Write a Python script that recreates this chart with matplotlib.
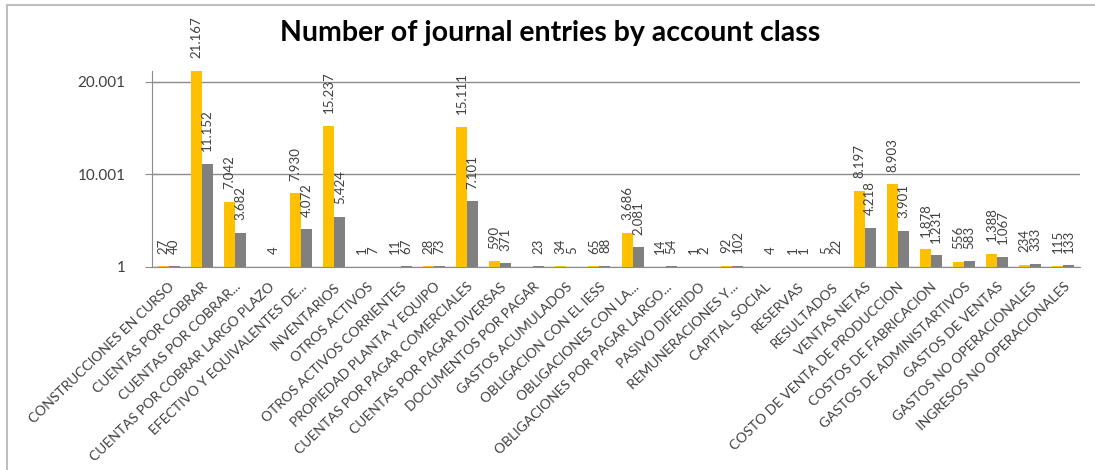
import numpy as np
import matplotlib

matplotlib.use("Agg")
import matplotlib.pyplot as plt  # noqa: E402
from matplotlib.lines import Line2D  # noqa: E402

ORANGE = "#FFC000"
GRAY = "#808080"
GRID = "#8c8c8c"
TEXT = "#404040"
FRAME = "#bfbfbf"

plt.rcParams.update({
    "font.family": ["Lato", "DejaVu Sans"],
    "text.color": TEXT,
    "xtick.color": TEXT,
    "ytick.color": TEXT,
})

categories = [
    "CONSTRUCCIONES EN CURSO", "CUENTAS POR COBRAR", "CUENTAS POR COBRAR...",
    "CUENTAS POR COBRAR LARGO PLAZO", "EFECTIVO Y EQUIVALENTES DE...",
    "INVENTARIOS", "OTROS ACTIVOS", "OTROS ACTIVOS CORRIENTES",
    "PROPIEDAD PLANTA Y EQUIPO", "CUENTAS POR PAGAR COMERCIALES",
    "CUENTAS POR PAGAR DIVERSAS", "DOCUMENTOS POR PAGAR", "GASTOS ACUMULADOS",
    "OBLIGACION CON EL IESS", "OBLIGACIONES CON LA...",
    "OBLIGACIONES POR PAGAR LARGO...", "PASIVO DIFERIDO", "REMUNERACIONES Y...",
    "CAPITAL SOCIAL", "RESERVAS", "RESULTADOS", "VENTAS NETAS",
    "COSTO DE VENTA DE PRODUCCION", "COSTOS DE FABRICACION",
    "GASTOS DE ADMINISTARTIVOS", "GASTOS DE VENTAS",
    "GASTOS NO OPERACIONALES", "INGRESOS NO OPERACIONALES",
]
# nan = no entries recorded for that series
series_a = [27, 21167, 7042, np.nan, 7930, 15237, 1, 11, 28, 15111, 590,
            np.nan, 34, 65, 3686, 14, 1, 92, np.nan, 1, 5, 8197, 8903, 1878,
            556, 1388, 234, 115]
series_b = [40, 11152, 3682, 4, 4072, 5424, 7, 67, 73, 7101, 371, 23, 5, 88,
            2081, 54, 2, 102, 4, 1, 22, 4218, 3901, 1231, 583, 1067, 333, 133]
yticks = [1, 10001, 20001]


def fmt(v):
    return f"{v:,.0f}".replace(",", ".")


fig = plt.figure(figsize=(10.95, 4.7), dpi=100)
ax = fig.add_axes([152 / 1095, 1 - 266.7 / 470, 928 / 1095, 195.7 / 470])

x = np.arange(len(categories))
w = 0.33
for vals, off, col in ((series_a, -w / 2, ORANGE), (series_b, w / 2, GRAY)):
    v = np.array(vals, dtype=float)
    ok = ~np.isnan(v)
    ax.bar(x[ok] + off, v[ok] - 1, bottom=1, width=w, color=col,
           linewidth=0, zorder=2)
    for xi, vi in zip(x[ok] + off, v[ok]):
        ax.annotate(fmt(vi), (xi, vi), xytext=(0, 9), textcoords="offset points",
                    rotation=90, ha="center", va="bottom", fontsize=9.5,
                    color=TEXT, zorder=3)

ax.set_xlim(-0.5, len(categories) - 0.5)
ax.set_ylim(1, max(np.nanmax(series_a), max(series_b)))
ax.set_yticks(yticks)
ax.set_yticklabels([fmt(t) for t in yticks], fontsize=11)
ax.tick_params(axis="y", direction="inout", length=10, color=GRID, pad=14)
ax.set_xticks(x)
ax.set_xticklabels(categories, rotation=44, ha="right", rotation_mode="anchor",
                   fontsize=10)
ax.tick_params(axis="x", length=0, pad=10)
ax.yaxis.grid(True, color=GRID, linewidth=1)
ax.set_axisbelow(True)
for s in ("top", "right"):
    ax.spines[s].set_visible(False)
for s in ("left", "bottom"):
    ax.spines[s].set_color(GRID)

fig.text(0.502, 1 - 33 / 470, "Number of journal entries by account class",
         ha="center", va="center", fontsize=20.5, fontweight="bold", color="black")

# chart frame (only top and left edges fall inside the canvas)
fig.add_artist(Line2D([7 / 1095, 1], [1 - 5 / 470] * 2, color=FRAME, lw=1.5))
fig.add_artist(Line2D([7 / 1095] * 2, [0, 1 - 5 / 470], color=FRAME, lw=1.5))

fig.savefig("out.png", dpi=100, facecolor="white")
